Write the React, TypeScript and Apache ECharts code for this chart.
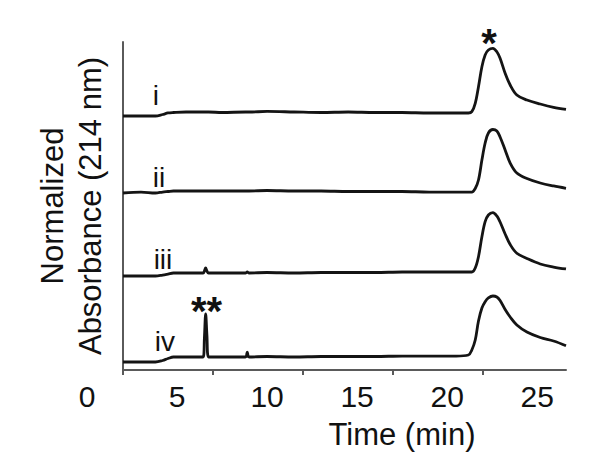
import React, { useEffect, useRef } from "react";
import * as echarts from "echarts";

// Retention time (min)
const time = [2.0, 3.0, 3.8, 4.2, 4.5, 4.8, 5.5, 6.45, 6.52, 6.59, 6.66, 6.75, 7.5, 8.8, 8.9, 9.0, 10.0, 11.5, 13.0, 14.5, 16.0, 17.5, 19.0, 20.5, 21.18, 21.37, 21.56, 21.74, 21.93, 22.11, 22.29, 22.54, 22.76, 22.94, 23.22, 23.5, 23.87, 24.43, 25.17, 25.91, 26.6];

// Normalized absorbance (214 nm), traces stacked with offsets
const traceI = [3.872, 3.872, 3.872, 3.895, 3.918, 3.925, 3.933, 3.933, 3.933, 3.933, 3.933, 3.933, 3.925, 3.933, 3.933, 3.933, 3.941, 3.933, 3.925, 3.933, 3.925, 3.925, 3.918, 3.918, 3.918, 3.938, 4.066, 4.319, 4.623, 4.802, 4.878, 4.904, 4.852, 4.752, 4.523, 4.345, 4.192, 4.116, 4.055, 4.005, 3.974];
const traceII = [2.698, 2.713, 2.698, 2.713, 2.721, 2.729, 2.729, 2.729, 2.729, 2.729, 2.729, 2.729, 2.729, 2.729, 2.729, 2.729, 2.736, 2.729, 2.729, 2.721, 2.721, 2.721, 2.713, 2.713, 2.713, 2.713, 2.767, 2.896, 3.201, 3.46, 3.613, 3.666, 3.643, 3.552, 3.354, 3.155, 3.003, 2.919, 2.851, 2.805, 2.77];
const traceIII = [1.433, 1.433, 1.433, 1.448, 1.463, 1.479, 1.479, 1.479, 1.509, 1.555, 1.509, 1.479, 1.479, 1.479, 1.494, 1.479, 1.486, 1.479, 1.486, 1.486, 1.486, 1.494, 1.494, 1.494, 1.494, 1.494, 1.555, 1.727, 2.032, 2.261, 2.363, 2.398, 2.348, 2.256, 2.073, 1.913, 1.779, 1.7, 1.616, 1.57, 1.54];
const traceIV = [0.122, 0.122, 0.122, 0.145, 0.175, 0.198, 0.198, 0.198, 0.488, 0.854, 0.534, 0.198, 0.198, 0.198, 0.274, 0.198, 0.206, 0.198, 0.206, 0.206, 0.206, 0.213, 0.213, 0.213, 0.229, 0.305, 0.457, 0.747, 0.945, 1.041, 1.098, 1.128, 1.113, 1.059, 0.922, 0.808, 0.686, 0.579, 0.495, 0.442, 0.37];

const traceNames = ["i", "ii", "iii", "iv"];
const traces = [traceI, traceII, traceIII, traceIV];
// label anchor [time, absorbance] for each trace name
const nameAnchors = [
  [3.83, 4.18],
  [4.0, 2.94],
  [4.22, 1.68],
  [4.33, 0.43],
];

const tickValues = [2, 7, 12, 17, 22];
const labelValues = [0, 5, 10, 15, 20, 25];

const FONT = "'Liberation Sans', Arial, Helvetica, sans-serif";

export default function App() {
  const ref = useRef<HTMLDivElement>(null);

  useEffect(() => {
    document.body.style.margin = "0";
    if (!ref.current) return;
    const chart = echarts.init(ref.current, null, { renderer: "svg" });

    const series: any[] = traces.map((tr, k) => {
      const markData: any[] = [
        {
          name: traceNames[k],
          coord: nameAnchors[k],
          label: { fontSize: 28, fontWeight: "normal" },
        },
      ];
      if (k === 0) {
        markData.push({ name: "*", coord: [22.33, 4.99], label: { fontSize: 40, fontWeight: "bold" } });
      }
      if (k === 3) {
        markData.push({ name: "**", coord: [6.64, 0.907], label: { fontSize: 40, fontWeight: "bold" } });
      }
      return {
        type: "line",
        name: traceNames[k],
        xAxisIndex: 0,
        yAxisIndex: 0,
        data: time.map((t, i) => [t, tr[i]]),
        showSymbol: false,
        symbol: "none",
        smooth: 0.35,
        clip: false,
        lineStyle: { color: "#141414", width: 2.8 },
        markPoint: {
          symbol: "circle",
          symbolSize: 0,
          itemStyle: { color: "transparent" },
          label: {
            show: true,
            position: "inside",
            formatter: "{b}",
            color: "#111",
            fontFamily: FONT,
          },
          data: markData,
        },
      };
    });

    chart.setOption({
      animation: false,
      backgroundColor: "#fff",
      grid: [
        { left: 123, right: 35, top: 42, bottom: 96 },
        { left: 87, right: 35, top: 42, bottom: 96 },
      ],
      xAxis: [
        {
          type: "value",
          gridIndex: 0,
          min: 2,
          max: 26.6,
          interval: 5,
          axisLine: { show: true, lineStyle: { color: "#5a5a5a", width: 2 } },
          axisTick: { show: true, length: 5, lineStyle: { color: "#5a5a5a", width: 2 }, customValues: tickValues },
          axisLabel: { show: false },
          splitLine: { show: false },
        },
        {
          type: "value",
          gridIndex: 1,
          min: 0,
          max: 26.6,
          interval: 5,
          axisLine: { show: false },
          axisTick: { show: false },
          splitLine: { show: false },
          axisLabel: {
            show: true,
            customValues: labelValues,
            fontSize: 30,
            color: "#111",
            fontFamily: FONT,
            margin: 11,
          },
          name: "Time (min)",
          nameLocation: "middle",
          nameGap: 49,
          nameTextStyle: {
            fontSize: 31,
            color: "#111",
            fontFamily: FONT,
            padding: [0, 0, 0, 151],
          },
        },
      ],
      yAxis: [
        {
          type: "value",
          gridIndex: 0,
          min: 0,
          max: 5,
          axisLine: { show: true, lineStyle: { color: "#5a5a5a", width: 2 } },
          axisTick: { show: false },
          axisLabel: { show: false },
          splitLine: { show: false },
          name: "Normalized\nAbsorbance (214 nm)",
          nameLocation: "middle",
          nameGap: 14,
          nameTextStyle: {
            fontSize: 31,
            lineHeight: 38,
            color: "#111",
            fontFamily: FONT,
          },
        },
        {
          type: "value",
          gridIndex: 1,
          min: 0,
          max: 5,
          show: false,
        },
      ],
      series,
    });

    return () => {
      chart.dispose();
    };
  }, []);

  return <div ref={ref} style={{ width: 601, height: 466, background: "#fff" }} />;
}
